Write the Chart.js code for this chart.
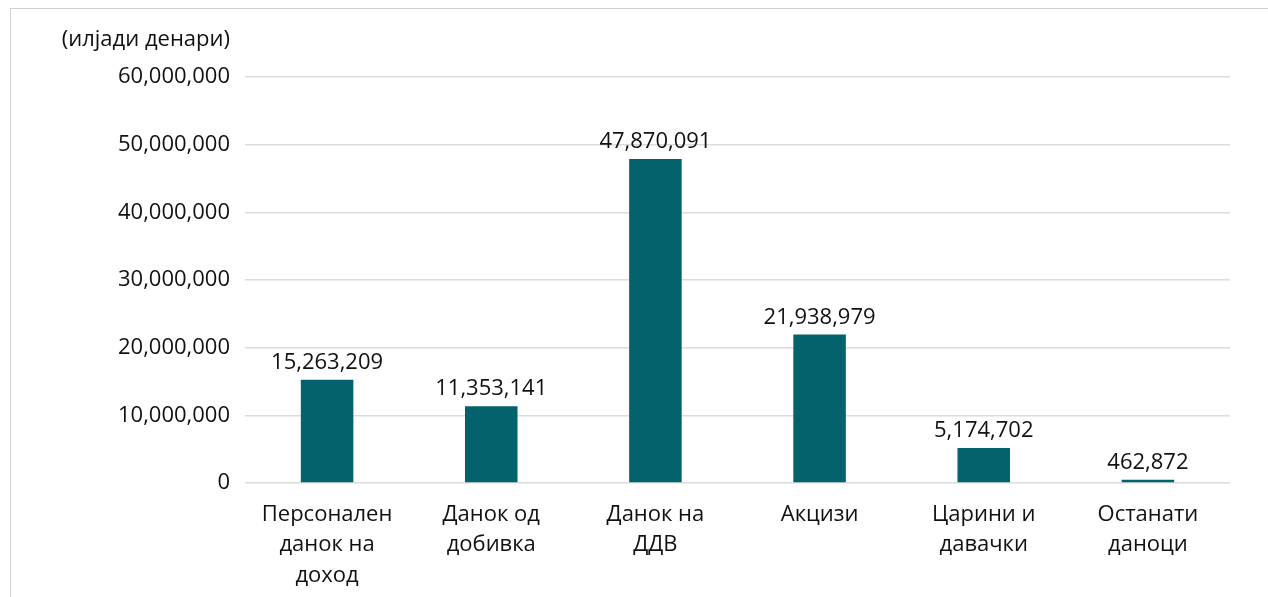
<!DOCTYPE html>
<html>
<head>
<meta charset="utf-8">
<script src="https://cdn.jsdelivr.net/npm/chart.js@4/dist/chart.umd.min.js"></script>
<style>
  html, body { margin: 0; padding: 0; background: #fff; }
  #frame {
    position: absolute;
    left: 10px;
    top: 8px;
    width: 1258px;
    height: 589px;
    border-top: 1px solid #cfcfcf;
    border-left: 1px solid #cfcfcf;
  }
  #chart { display: block; }
</style>
</head>
<body>
<div id="frame"><canvas id="chart" width="1257" height="588"></canvas></div>
<script>
const categories = [
  ["Персонален", "данок на", "доход"],
  ["Данок од", "добивка"],
  ["Данок на", "ДДВ"],
  ["Акцизи"],
  ["Царини и", "давачки"],
  ["Останати", "даноци"],
];
const revenue = [15263209, 11353141, 47870091, 21938979, 5174702, 462872];
const unitLabel = "(илјади денари)";
const yMax = 60000000;
const yStep = 10000000;

const fontFamily = "'Open Sans', 'Noto Sans', sans-serif";
const barColor = "#04626c";

const fmt = (v) => v.toLocaleString("en-US");

// вредности над секоја колона
const valueLabels = {
  id: "valueLabels",
  afterDatasetsDraw(chart) {
    const ctx = chart.ctx;
    const meta = chart.getDatasetMeta(0);
    ctx.save();
    ctx.font = "22px " + fontFamily;
    ctx.fillStyle = "#111";
    ctx.textAlign = "center";
    ctx.textBaseline = "alphabetic";
    meta.data.forEach((bar, i) => {
      ctx.fillText(fmt(revenue[i]), bar.x, bar.y - 11);
    });
    ctx.restore();
  },
};

// мерна единица над у-оската
const unitTitle = {
  id: "unitTitle",
  afterDraw(chart) {
    const ctx = chart.ctx;
    const y = chart.scales.y;
    ctx.save();
    ctx.font = "22px " + fontFamily;
    ctx.fillStyle = "#111";
    ctx.textAlign = "right";
    ctx.textBaseline = "middle";
    ctx.fillText(unitLabel, y.right - 15, 31);
    ctx.restore();
  },
};

new Chart(document.getElementById("chart"), {
  type: "bar",
  data: {
    labels: categories,
    datasets: [
      {
        data: revenue,
        backgroundColor: barColor,
        barPercentage: 0.32,
        categoryPercentage: 1,
      },
    ],
  },
  options: {
    responsive: false,
    animation: false,
    layout: { padding: { top: 68, right: 38, left: 0, bottom: 0 } },
    plugins: {
      legend: { display: false },
      tooltip: { enabled: false },
    },
    scales: {
      x: {
        grid: { display: false, drawTicks: false },
        border: { display: false },
        ticks: {
          color: "#111",
          font: { family: fontFamily, size: 22, lineHeight: 1.4 },
          padding: 16,
          maxRotation: 0,
          autoSkip: false,
        },
        afterFit(scale) {
          scale.height = 114;
        },
      },
      y: {
        min: 0,
        max: yMax,
        grid: { color: "#dcdcdc", lineWidth: 1.5, drawTicks: false },
        border: { display: false },
        ticks: {
          stepSize: yStep,
          color: "#111",
          font: { family: fontFamily, size: 22 },
          padding: 15,
          callback: (v) => fmt(v),
        },
        afterFit(scale) {
          scale.width = 234;
        },
      },
    },
  },
  plugins: [valueLabels, unitTitle],
});
</script>
</body>
</html>
